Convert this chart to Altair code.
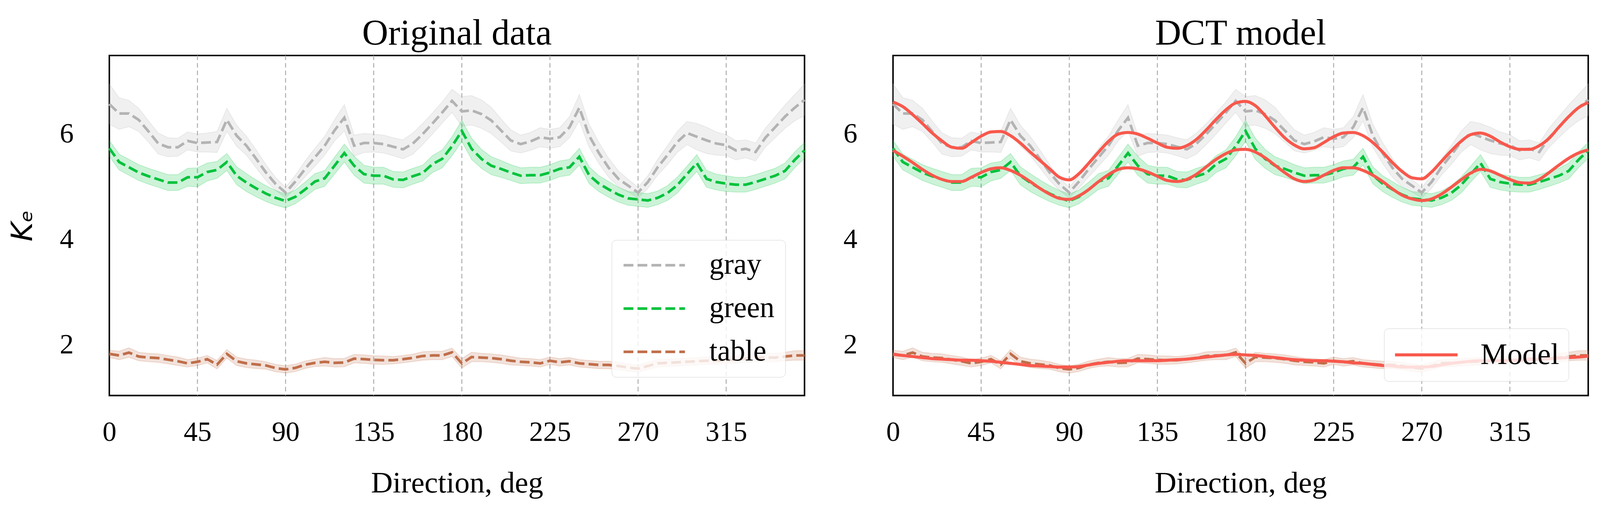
import altair as alt
import pandas as pd

direction = [0, 5, 10, 15, 20, 25, 30, 35, 40, 45, 50, 55, 60, 65, 70, 75, 80, 85, 90,
             95, 100, 105, 110, 115, 120, 125, 130, 135, 140, 145, 150, 155, 160, 165, 170, 175, 180,
             185, 190, 195, 200, 205, 210, 215, 220, 225, 230, 235, 240, 245, 250, 255, 260, 265, 270,
             275, 280, 285, 290, 295, 300, 305, 310, 315, 320, 325, 330, 335, 340, 345, 350, 355]

series_names = ["gray", "green", "table"]
band_names = ["gray band", "green band", "table band"]
series_colors = ["#b3b3b3", "#00c23c", "#bf6e4a"]
model_color = "#f8584c"

gray = [6.57, 6.39, 6.39, 6.27, 6.05, 5.82, 5.75, 5.75, 5.87, 5.83,
        5.84, 5.85, 6.27, 5.97, 5.78, 5.53, 5.27, 5.05, 4.89,
        5.10, 5.34, 5.56, 5.78, 6.07, 6.31, 5.78, 5.83, 5.83,
        5.81, 5.76, 5.71, 5.82, 6.00, 6.20, 6.41, 6.63, 6.43,
        6.45, 6.38, 6.26, 6.07, 5.88, 5.81, 5.86, 5.94, 5.91,
        5.94, 6.13, 6.50, 5.97, 5.64, 5.36, 5.15, 5.02, 4.89,
        5.09, 5.37, 5.60, 5.85, 6.02, 5.95, 5.88, 5.82, 5.79,
        5.69, 5.72, 5.66, 5.93, 6.13, 6.33, 6.50, 6.65]
gray_sd = [0.38, 0.30, 0.25, 0.22, 0.20, 0.20, 0.18, 0.17, 0.17, 0.17,
           0.18, 0.20, 0.22, 0.20, 0.18, 0.17, 0.15, 0.12, 0.10,
           0.12, 0.15, 0.17, 0.18, 0.20, 0.25, 0.20, 0.18, 0.17,
           0.17, 0.17, 0.18, 0.20, 0.20, 0.20, 0.20, 0.22, 0.28,
           0.28, 0.27, 0.25, 0.22, 0.20, 0.17, 0.17, 0.18, 0.18,
           0.18, 0.20, 0.25, 0.22, 0.20, 0.18, 0.15, 0.12, 0.10,
           0.12, 0.15, 0.18, 0.20, 0.22, 0.25, 0.25, 0.22, 0.20,
           0.18, 0.17, 0.17, 0.18, 0.20, 0.22, 0.25, 0.30]

green = [5.73, 5.47, 5.37, 5.27, 5.20, 5.14, 5.08, 5.08, 5.18, 5.18,
         5.28, 5.32, 5.47, 5.21, 5.08, 4.97, 4.87, 4.79, 4.73,
         4.81, 4.95, 5.10, 5.16, 5.40, 5.64, 5.40, 5.24, 5.21,
         5.21, 5.14, 5.13, 5.20, 5.26, 5.43, 5.53, 5.77, 6.06,
         5.72, 5.53, 5.40, 5.34, 5.27, 5.21, 5.22, 5.22, 5.27,
         5.34, 5.37, 5.57, 5.22, 5.06, 4.95, 4.85, 4.78, 4.76,
         4.74, 4.79, 4.88, 5.03, 5.24, 5.45, 5.15, 5.09, 5.06,
         5.04, 5.04, 5.09, 5.15, 5.21, 5.30, 5.51, 5.69]
green_sd = [0.15, 0.15, 0.15, 0.15, 0.15, 0.15, 0.15, 0.15, 0.17, 0.18,
            0.17, 0.16, 0.16, 0.17, 0.17, 0.16, 0.15, 0.14, 0.13,
            0.13, 0.14, 0.15, 0.15, 0.16, 0.17, 0.18, 0.17, 0.16,
            0.16, 0.15, 0.15, 0.15, 0.15, 0.16, 0.17, 0.18, 0.20,
            0.20, 0.18, 0.17, 0.16, 0.15, 0.15, 0.15, 0.15, 0.15,
            0.15, 0.15, 0.16, 0.16, 0.15, 0.15, 0.14, 0.13, 0.13,
            0.13, 0.13, 0.14, 0.15, 0.15, 0.16, 0.16, 0.15, 0.15,
            0.14, 0.14, 0.14, 0.14, 0.14, 0.15, 0.15, 0.15]

table = [1.83, 1.80, 1.855, 1.78, 1.76, 1.75, 1.72, 1.69, 1.65, 1.68,
         1.73, 1.625, 1.83, 1.69, 1.65, 1.63, 1.61, 1.56, 1.535,
         1.565, 1.625, 1.66, 1.68, 1.66, 1.665, 1.74, 1.73, 1.715,
         1.71, 1.71, 1.73, 1.755, 1.79, 1.80, 1.80, 1.86, 1.65,
         1.77, 1.76, 1.75, 1.73, 1.70, 1.68, 1.67, 1.65, 1.70,
         1.67, 1.69, 1.65, 1.635, 1.62, 1.62, 1.60, 1.57, 1.55,
         1.60, 1.65, 1.66, 1.67, 1.68, 1.69, 1.70, 1.70, 1.71,
         1.72, 1.74, 1.75, 1.76, 1.76, 1.78, 1.80, 1.80]
table_sd = [0.07, 0.08, 0.09, 0.08, 0.08, 0.08, 0.08, 0.08, 0.07, 0.07,
            0.07, 0.08, 0.08, 0.08, 0.08, 0.08, 0.07, 0.07, 0.07,
            0.07, 0.07, 0.07, 0.08, 0.08, 0.08, 0.08, 0.08, 0.08,
            0.08, 0.07, 0.07, 0.07, 0.08, 0.08, 0.08, 0.08, 0.09,
            0.09, 0.08, 0.08, 0.08, 0.08, 0.07, 0.07, 0.07, 0.07,
            0.07, 0.07, 0.07, 0.07, 0.07, 0.07, 0.07, 0.07, 0.07,
            0.07, 0.07, 0.07, 0.07, 0.07, 0.07, 0.07, 0.07, 0.07,
            0.07, 0.07, 0.07, 0.08, 0.08, 0.08, 0.09, 0.09]

model_gray = [6.61, 6.52, 6.37, 6.20, 6.02, 5.87, 5.75, 5.73, 5.84, 5.96,
              6.04, 6.05, 5.97, 5.83, 5.66, 5.50, 5.34, 5.18, 5.13,
              5.25, 5.45, 5.66, 5.86, 6.00, 6.03, 6.00, 5.92, 5.83,
              5.75, 5.73, 5.78, 5.90, 6.08, 6.28, 6.46, 6.59, 6.62,
              6.54, 6.35, 6.13, 5.93, 5.79, 5.72, 5.74, 5.84, 5.95,
              6.02, 6.03, 5.97, 5.84, 5.66, 5.46, 5.29, 5.17, 5.15,
              5.28, 5.48, 5.68, 5.86, 5.99, 6.02, 5.96, 5.85, 5.76,
              5.71, 5.71, 5.78, 5.92, 6.13, 6.33, 6.50, 6.60]
model_green = [5.69, 5.58, 5.46, 5.33, 5.22, 5.14, 5.10, 5.10, 5.18, 5.27,
               5.34, 5.36, 5.31, 5.22, 5.10, 4.97, 4.86, 4.78, 4.76,
               4.83, 4.95, 5.10, 5.23, 5.33, 5.36, 5.34, 5.28, 5.20,
               5.12, 5.10, 5.14, 5.24, 5.38, 5.52, 5.63, 5.70, 5.71,
               5.66, 5.55, 5.41, 5.27, 5.15, 5.10, 5.13, 5.22, 5.31,
               5.36, 5.36, 5.31, 5.22, 5.10, 4.96, 4.84, 4.77, 4.74,
               4.77, 4.86, 4.99, 5.13, 5.26, 5.33, 5.30, 5.22, 5.14,
               5.08, 5.07, 5.14, 5.27, 5.41, 5.54, 5.64, 5.70]
model_table = [1.82, 1.80, 1.78, 1.76, 1.74, 1.73, 1.72, 1.71, 1.71, 1.70,
               1.69, 1.67, 1.65, 1.63, 1.61, 1.60, 1.59, 1.58, 1.58,
               1.59, 1.62, 1.65, 1.67, 1.69, 1.70, 1.70, 1.70, 1.70,
               1.71, 1.72, 1.73, 1.75, 1.77, 1.79, 1.81, 1.82, 1.81,
               1.80, 1.78, 1.76, 1.74, 1.72, 1.71, 1.70, 1.70, 1.69,
               1.68, 1.66, 1.65, 1.63, 1.61, 1.60, 1.58, 1.58, 1.58,
               1.59, 1.62, 1.65, 1.67, 1.69, 1.70, 1.70, 1.70, 1.70,
               1.71, 1.72, 1.73, 1.74, 1.75, 1.76, 1.77, 1.79]

x_ticks = [0, 45, 90, 135, 180, 225, 270, 315]
grid_lines = [45, 90, 135, 180, 225, 270, 315]
y_ticks = [2, 4, 6]

# ---- build tables ----
rows = []
for name, bname, vals, sds in zip(series_names, band_names, [gray, green, table],
                                  [gray_sd, green_sd, table_sd]):
    for d, v, s in zip(direction, vals, sds):
        rows.append({"direction": d, "series": name, "grp": bname, "ke": v,
                     "lo": v - s, "hi": v + s})
df = pd.DataFrame(rows)

mrows = []
for name, vals in zip(series_names, [model_gray, model_green, model_table]):
    for d, v in zip(direction, vals):
        mrows.append({"direction": d, "series": name, "ke": v, "label": "Model"})
mdf = pd.DataFrame(mrows)

gdf = pd.DataFrame({"direction": grid_lines})

SERIF = "Liberation Serif"
W, H = 1846, 903


def x_enc():
    return alt.X("direction:Q",
                 scale=alt.Scale(domain=[0, 355], nice=False, zero=False),
                 axis=alt.Axis(values=x_ticks, grid=False, tickSize=0, domain=False,
                               labelFont=SERIF, labelFontSize=74, labelColor="black",
                               labelPadding=62, labelFlush=False, title="Direction, deg",
                               titleFont=SERIF, titleFontSize=80, titleFontWeight="normal",
                               titleColor="black", titlePadding=59))


def y_enc(field, with_title):
    ax = dict(values=y_ticks, grid=False, tickSize=0, domain=False, labelFont=SERIF,
              labelFontSize=74, labelColor="black", labelPadding=95)
    if with_title:
        ax.update(title="Kₑ", titleFont="DejaVu Sans", titleFontStyle="italic",
                  titleFontSize=78, titleFontWeight="normal", titleColor="black", titlePadding=58)
    else:
        ax.update(title=None)
    return alt.Y(f"{field}:Q", scale=alt.Scale(domain=[1.04, 7.49], nice=False, zero=False),
                 axis=alt.Axis(**ax))


line_scale = alt.Scale(domain=series_names, range=series_colors)
band_scale = alt.Scale(domain=band_names, range=series_colors)


def grid():
    return alt.Chart(gdf).mark_rule(strokeDash=[12, 8], color="#ababab", strokeWidth=2.5).encode(
        x=x_enc())


def bands(with_title):
    return alt.Chart(df).mark_area(fillOpacity=0.2, strokeOpacity=0.22, strokeWidth=2).encode(
        x=x_enc(),
        y=y_enc("lo", with_title),
        y2="hi:Q",
        fill=alt.Fill("grp:N", scale=band_scale, legend=None),
        stroke=alt.Stroke("grp:N", scale=band_scale, legend=None),
    )


left_lines = alt.Chart(df).mark_line(strokeWidth=7, strokeDash=[26, 11]).encode(
    x=x_enc(),
    y=y_enc("ke", True),
    color=alt.Color("series:N", scale=line_scale,
                    legend=alt.Legend(orient="none", legendX=1334, legendY=490, title=None,
                                      symbolType="stroke", symbolSize=26569, symbolStrokeWidth=7,
                                      symbolDash=[26, 11], clipHeight=78, rowPadding=37,
                                      labelFont=SERIF, labelFontSize=78, labelColor="black",
                                      labelOffset=61, labelLimit=500, padding=28,
                                      fillColor="rgba(255,255,255,0.8)", strokeColor="#cfcfcf",
                                      cornerRadius=12, zindex=1)),
)

right_lines = alt.Chart(df).mark_line(strokeWidth=7, strokeDash=[26, 11]).encode(
    x=x_enc(),
    y=y_enc("ke", False),
    detail="series:N",
    stroke=alt.Stroke("grp:N", scale=band_scale, legend=None),
)

model = alt.Chart(mdf).mark_line(strokeWidth=8, interpolate="monotone").encode(
    x=x_enc(),
    y=y_enc("ke", False),
    detail="series:N",
    color=alt.Color("label:N", scale=alt.Scale(domain=["Model"], range=[model_color]),
                    legend=alt.Legend(orient="none", legendX=1304, legendY=725, title=None,
                                      symbolType="stroke", symbolSize=27556, symbolStrokeWidth=8,
                                      clipHeight=90, labelFont=SERIF, labelFontSize=80,
                                      labelColor="black", labelOffset=57, labelLimit=500,
                                      padding=25,
                                      fillColor="rgba(255,255,255,0.8)", strokeColor="#cfcfcf",
                                      cornerRadius=12, zindex=1)),
)

title_kw = dict(font=SERIF, fontSize=96, fontWeight="normal", color="black", offset=8)

left = alt.layer(grid(), bands(True), left_lines).properties(
    width=W, height=H, title=alt.Title("Original data", **title_kw))
right = alt.layer(grid(), bands(False), right_lines, model).properties(
    width=W, height=H, title=alt.Title("DCT model", **title_kw))

chart = alt.hconcat(left, right, spacing=85).resolve_scale(
    color="independent", fill="independent", stroke="independent", y="independent"
).resolve_legend(color="independent").configure_view(
    stroke="black", strokeWidth=4
).properties(
    padding={"left": 12, "top": 6, "right": 5, "bottom": 5},
    background="white",
)

chart.save("out.html", embed_options={"renderer": "svg", "actions": False})
